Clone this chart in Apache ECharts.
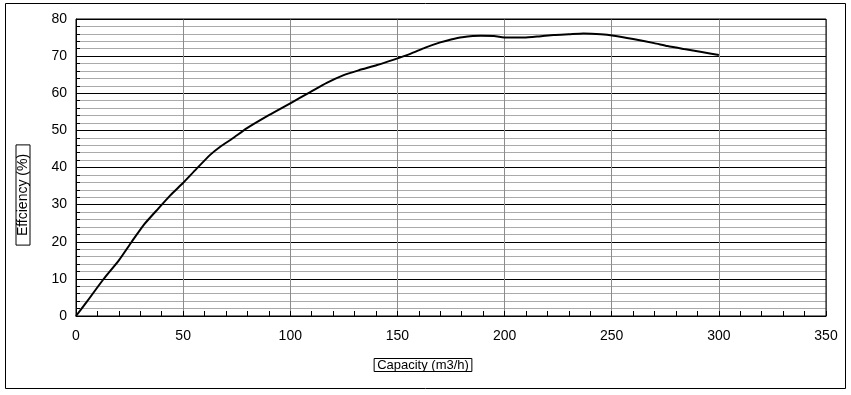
<!DOCTYPE html>
<html>
<head>
<meta charset="utf-8">
<script src="https://cdn.jsdelivr.net/npm/echarts@6/dist/echarts.min.js"></script>
<style>html,body{margin:0;padding:0;background:#fff;}#c{width:851px;height:395px;}</style>
</head>
<body>
<div id="c"></div>
<script>
var capacity = [0, 5, 12.8, 20, 26, 32, 38.5, 44, 49.7, 56, 62.6, 67.3, 73, 79.8, 90, 100, 109.3, 117, 124.9, 132, 140.5, 148, 156, 163, 170, 175, 180.2, 188.8, 195, 201.3, 209, 216, 223, 230, 236.8, 244.9, 251, 260, 269.8, 276, 283.8, 292, 300];
var efficiency = [0, 3.8, 9.9, 15, 20, 24.8, 29, 32.5, 35.7, 39.5, 43.4, 45.6, 47.8, 50.6, 54.1, 57.3, 60.3, 62.8, 64.9, 66.2, 67.6, 69, 70.6, 72.3, 73.7, 74.5, 75.1, 75.5, 75.4, 75.0, 75.0, 75.3, 75.7, 75.9, 76.1, 75.9, 75.5, 74.6, 73.5, 72.7, 71.9, 71.1, 70.3];
var xName = 'Capacity (m3/h)';
var yName = 'Effciency (%)';

var pts = capacity.map(function (q, i) { return [q, efficiency[i]]; });
var font = 'Liberation Sans, Arial, sans-serif';
var chart = echarts.init(document.getElementById('c'), null, {renderer: 'canvas'});
chart.setOption({
  animation: false,
  backgroundColor: '#fff',
  grid: {left: 76, top: 19, right: 25, bottom: 79, show: true, borderColor: '#000', borderWidth: 1, backgroundColor: 'transparent', z: 3},
  xAxis: {
    type: 'value', min: 0, max: 350, interval: 50,
    axisLine: {show: true, lineStyle: {color: '#000', width: 1}},
    axisTick: {show: true, inside: true, length: 5, lineStyle: {color: '#000'}},
    minorTick: {show: true, splitNumber: 5, length: 5, lineStyle: {color: '#000'}},
    axisLabel: {color: '#000', fontSize: 14, fontFamily: font, margin: 13},
    splitLine: {show: true, lineStyle: {color: '#8c8c8c', width: 1}},
    minorSplitLine: {show: false}
  },
  yAxis: {
    type: 'value', min: 0, max: 80, interval: 10,
    axisLine: {show: true, lineStyle: {color: '#000', width: 1}},
    axisTick: {show: false, inside: true, length: 4},
    minorTick: {show: true, splitNumber: 5, length: 4, lineStyle: {color: '#000'}},
    axisLabel: {color: '#000', fontSize: 14, fontFamily: font, margin: 9},
    splitLine: {show: true, lineStyle: {color: '#000', width: 1}},
    minorSplitLine: {show: true, lineStyle: {color: '#aaaaaa', width: 1}}
  },
  graphic: [
    {type: 'rect', shape: {x: 5.5, y: 3.5, width: 840, height: 385}, style: {fill: 'none', stroke: '#000', lineWidth: 1}, silent: true, z: 0},
    {type: 'text', x: 423, y: 365, style: {text: xName, fontSize: 13, fontFamily: font, fill: '#000', align: 'center', verticalAlign: 'middle', borderColor: '#000', borderWidth: 1, padding: [0, 3, 0, 3]}, z: 10},
    {type: 'text', x: 23, y: 195, rotation: Math.PI / 2, style: {text: yName, fontSize: 14, fontFamily: font, fill: '#000', align: 'center', verticalAlign: 'middle', borderColor: '#000', borderWidth: 1, padding: [0, 9, 0, 9]}, z: 10}
  ],
  series: [{
    type: 'line', data: pts, smooth: 0.2, showSymbol: false, symbol: 'none',
    lineStyle: {color: '#000', width: 2}, z: 5
  }]
});
</script>
</body>
</html>
